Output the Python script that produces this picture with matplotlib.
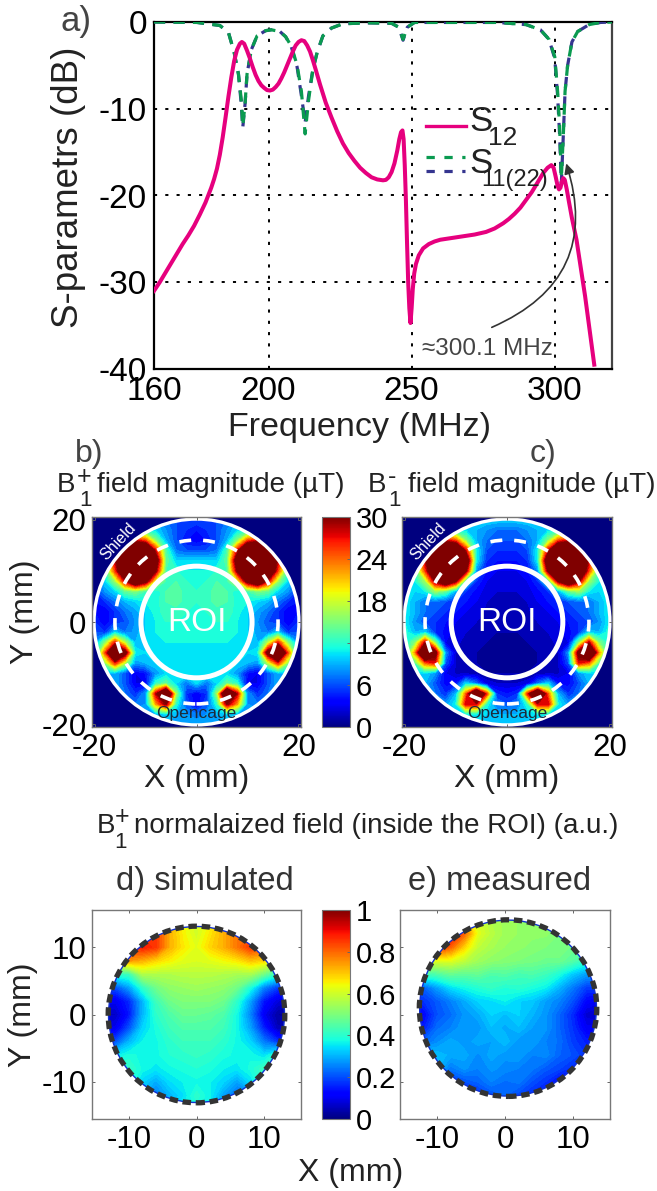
import matplotlib

matplotlib.use("Agg")
import matplotlib.pyplot as plt
import numpy as np
from matplotlib.cm import ScalarMappable
from matplotlib.colors import Normalize
from matplotlib.patches import Circle

plt.rcParams["font.family"] = ["Liberation Sans", "DejaVu Sans"]
plt.rcParams["axes.unicode_minus"] = False

W, H = 657, 1191

# panel a
s12_freq = [160, 162, 164, 166, 168, 170, 172, 174, 176, 178, 180, 181, 182, 183, 184, 185, 186, 187, 188, 189,
            190, 190.7, 191.5, 192.5, 193.5, 194.5, 195.5, 196.5, 197.5, 198.5, 199.5, 200.5, 201.5, 202.5,
            203.5, 204.5, 205.5, 206.5, 207.5, 208.5, 209.5, 210.5, 211.5, 212.5, 213.5, 214.5, 215.5, 216.5,
            218, 220, 222, 224, 226, 228, 230, 232, 234, 236, 238, 240, 241, 242, 243, 244, 245, 245.7, 246.3,
            246.8, 247.2, 247.6, 248, 248.4, 248.8, 249.2, 249.6, 250, 250.4, 250.9, 251.5, 252.5, 254, 256,
            258, 260, 264, 268, 272, 276, 279, 282, 284, 286, 288, 290, 292, 294, 296, 297.5, 298.8, 299.6,
            300.3, 301, 301.5, 302, 302.6, 303, 303.5, 304.2, 305, 306, 307.6, 310.6, 313.8]
s12_db = [-31, -30, -28.9, -27.8, -26.7, -25.6, -24.6, -23.5, -22.2, -20.8, -19.1, -18.1, -16.9, -15.3, -13.3, -11, -8.6,
          -6.4, -4.5, -3.2, -2.5, -2.3, -2.5, -3.3, -4.2, -5.2, -6.1, -6.8, -7.3, -7.6, -7.85, -7.9, -7.8, -7.5,
          -7.1, -6.5, -5.8, -5, -4.2, -3.4, -2.7, -2.3, -2.1, -2.2, -2.7, -3.4, -4.4, -5.5,
          -7.2, -9.3, -11, -12.6, -14, -15.1, -16, -16.8, -17.4, -17.9, -18.15, -18.25, -18.2, -17.9, -17.3, -16.3,
          -14.8, -13.5, -12.7, -12.5, -13.5, -16.5, -20.5, -25.5, -30, -33, -34.7, -33, -30.8, -29, -27.9, -26.9,
          -26.1, -25.6, -25.3, -25.1, -24.9, -24.7, -24.5, -24.2, -23.8, -23.2, -22.7, -22.1, -21.4, -20.5, -19.6,
          -18.5, -17.4, -16.8, -16.5, -16.8, -17.8, -18.9, -19.3, -19.1, -18.3, -18, -18.2, -19.3, -20.8, -22.6,
          -25.1, -31.6, -39.5]
s11_freq = [160, 175, 183, 186, 188, 189.5, 190.5, 191, 191.8, 192.5, 194, 196, 199, 201, 204, 206, 208,
            210, 211.5, 212.8, 214, 215.5, 217, 219, 222, 226, 235, 243, 245.5, 247, 248.5, 251, 280,
            290, 295, 298, 300, 301, 301.7, 302.3, 303, 303.6, 304.5, 306, 308, 312, 316, 320]
s11_db = [0, -0.05, -0.4, -1.2, -3.5, -6, -9, -12, -9.5, -6, -3.2, -1.6, -1, -0.9, -1.1, -1.7, -2.8,
          -5, -8, -12.9, -9, -5.5, -3.5, -1.6, -0.7, -0.2, -0.1, -0.15, -0.6, -2, -0.6, -0.05, -0.05,
          -0.3, -0.9, -2, -4, -8, -12, -18, -13, -8, -5, -2.3, -1.1, -0.3, -0.05, 0]
s22_db = [0, -0.05, -0.4, -1.2, -3.5, -6, -9.5, -12.2, -9.5, -6, -3.2, -1.6, -1, -0.9, -1.1, -1.7, -2.9,
          -5.2, -8.5, -11.6, -8.5, -5.5, -3.5, -1.6, -0.7, -0.2, -0.1, -0.15, -0.6, -2.1, -0.6, -0.05, -0.05,
          -0.3, -0.9, -2, -4.2, -8.5, -13, -18.6, -13, -8, -5, -2.3, -1.1, -0.3, -0.05, 0]

# panels b and c on a 2 mm grid, columns x = 0..20, rows y = 20..-20 (left half is the mirror)
field_y = [20, 18, 16, 14, 12, 10, 8, 6, 4, 2, 0, -2, -4, -6, -8, -10, -12, -14, -16, -18, -20]
b1_plus = [
    [6, 6, 6, 7, 8, 9, 9, 9, 9, 9, 9],
    [4, 5, 6, 8, 10, 11, 12, 11, 10, 9, 9],
    [3, 4, 6, 9, 15, 24, 27, 20, 13, 9, 8],
    [6, 6, 7, 13, 27, 42, 42, 40, 21, 11, 8],
    [10, 10, 10, 14, 34, 42, 42, 42, 28, 13, 7],
    [11, 11, 12, 13, 30, 42, 42, 40, 25, 12, 6],
    [12, 12, 13, 13, 18, 32, 38, 28, 16, 10, 6],
    [12, 12.5, 13.5, 13, 11, 13, 15, 14, 10, 8, 5],
    [12, 12.5, 13.5, 13, 11.5, 11, 10, 9, 7, 5, 4],
    [11.5, 12, 12.5, 12.5, 11.5, 10, 8.5, 7, 5, 3, 4],
    [11.5, 11.5, 12, 12, 11, 10, 8, 6, 5, 3, 5],
    [11.5, 11.5, 11.5, 11.5, 11, 10, 8.5, 7, 10, 5, 6],
    [11, 11, 11, 11, 10.5, 10, 9, 17, 26, 15, 8],
    [11, 11, 11, 11, 10.5, 10, 11, 32, 42, 24, 9],
    [11, 11, 11, 11, 10, 9, 8, 17, 26, 15, 9],
    [11, 11, 10.5, 10, 8, 4, 3, 6, 9, 9, 9],
    [10, 7, 10, 14, 12, 3, 3, 6, 9, 10, 10],
    [3, 5, 16, 42, 28, 8, 5, 7, 9, 10, 10],
    [3, 6, 12, 30, 22, 8, 7, 9, 10, 10, 10],
    [7, 8, 9, 10, 9, 9, 9, 9, 9, 9, 9],
    [9, 9, 9, 9, 9, 9, 9, 9, 9, 9, 9],
]
b1_minus = [
    [10, 10, 10, 10, 10, 10, 10, 10, 10, 10, 10],
    [7, 7, 8, 9, 10, 11, 12, 11, 10, 10, 10],
    [6, 6, 7, 9, 15, 24, 27, 20, 13, 10, 10],
    [5, 5, 6, 11, 27, 42, 42, 40, 21, 11, 11],
    [4, 4, 5, 11, 36, 42, 42, 42, 28, 13, 11],
    [3, 3, 4, 8, 30, 42, 42, 40, 25, 12, 11],
    [2.5, 2.5, 3, 5, 12, 30, 38, 30, 16, 11, 11],
    [2, 2, 2.5, 3.5, 5, 9, 14, 16, 11, 10, 11],
    [1.8, 1.8, 2, 3, 4, 5, 6, 7, 7, 9, 11],
    [1.5, 1.5, 1.8, 2.5, 3, 4, 5, 6, 7, 9, 11],
    [1.3, 1.3, 1.5, 2, 2.5, 3, 4, 5, 6, 8, 11],
    [1, 1, 1.2, 1.6, 2, 2.5, 3.5, 5, 10, 9, 12],
    [0.7, 0.8, 1, 1.3, 1.7, 2.2, 3, 15, 28, 15, 11],
    [0.5, 0.6, 0.8, 1, 1.4, 2, 8, 32, 42, 22, 11],
    [0.7, 0.7, 0.9, 1, 1.4, 2, 6, 27, 24, 13, 11],
    [1, 1, 1, 1.3, 1.5, 1.8, 3, 8, 10, 10, 11],
    [2, 2, 2.5, 7, 10, 4, 3.5, 6, 9, 11, 11],
    [4, 5, 26, 42, 24, 9, 5, 7, 10, 11, 11],
    [6, 7, 12, 28, 28, 11, 8, 10, 11, 11, 11],
    [9, 9, 10, 11, 11, 10, 10, 10, 10, 10, 10],
    [10, 10, 10, 10, 10, 10, 10, 10, 10, 10, 10],
]

# panels d and e, columns x = -14..14, rows y = 14..-14
norm_y = [14, 12, 10, 8, 6, 4, 2, 0, -2, -4, -6, -8, -10, -12, -14]
norm_x = [-14, -12, -10, -8, -6, -4, -2, 0, 2, 4, 6, 8, 10, 12, 14]
simulated = [
    [.7, .7, .8, .85, .85, .72, .64, .6, .64, .72, .78, .8, .7, .6, .6],
    [.7, .7, .8, .85, .85, .72, .65, .6, .66, .72, .78, .8, .7, .6, .6],
    [.8, .85, .85, .88, .85, .72, .66, .62, .68, .72, .78, .85, .82, .7, .7],
    [.7, .7, .75, .72, .68, .65, .62, .61, .62, .64, .66, .7, .68, .6, .6],
    [.4, .4, .42, .56, .56, .56, .57, .57, .57, .56, .55, .55, .48, .4, .4],
    [.2, .2, .28, .4, .48, .52, .53, .54, .53, .52, .48, .38, .25, .18, .18],
    [.1, .1, .16, .3, .42, .48, .5, .5, .5, .48, .4, .28, .14, .08, .06],
    [.06, .06, .14, .3, .4, .44, .47, .47, .46, .44, .37, .25, .1, .03, .02],
    [.08, .1, .2, .33, .38, .42, .44, .44, .44, .42, .37, .28, .15, .05, .05],
    [.2, .2, .3, .36, .37, .4, .42, .42, .42, .4, .37, .33, .24, .17, .15],
    [.35, .35, .38, .37, .37, .39, .4, .41, .4, .38, .37, .37, .34, .4, .4],
    [.42, .42, .41, .37, .35, .37, .38, .39, .38, .36, .35, .38, .42, .46, .46],
    [.42, .42, .4, .33, .29, .34, .36, .37, .36, .33, .28, .34, .42, .42, .42],
    [.4, .4, .35, .3, .24, .3, .34, .4, .36, .28, .22, .25, .3, .3, .3],
    [.3, .3, .3, .3, .3, .33, .36, .38, .36, .3, .3, .3, .3, .3, .3],
]
measured = [
    [.8, .8, .8, .8, .7, .6, .56, .54, .53, .53, .52, .5, .5, .5, .5],
    [.9, .9, .9, .92, .8, .62, .57, .54, .53, .52, .52, .5, .5, .5, .5],
    [.85, .85, .88, .8, .68, .58, .55, .53, .52, .51, .5, .5, .48, .48, .48],
    [.6, .6, .62, .62, .58, .54, .52, .51, .5, .49, .48, .48, .45, .4, .4],
    [.42, .42, .44, .47, .46, .47, .44, .45, .43, .44, .42, .38, .32, .28, .28],
    [.22, .22, .28, .34, .37, .39, .41, .39, .4, .38, .36, .3, .24, .18, .18],
    [.17, .17, .21, .25, .29, .33, .34, .36, .33, .32, .28, .25, .2, .12, .1],
    [.12, .12, .2, .23, .27, .29, .33, .31, .33, .3, .27, .22, .16, .07, .05],
    [.15, .15, .23, .25, .28, .27, .31, .29, .31, .28, .27, .22, .17, .1, .1],
    [.22, .22, .26, .29, .27, .29, .28, .31, .27, .28, .25, .23, .18, .15, .15],
    [.32, .32, .31, .29, .29, .26, .29, .27, .28, .25, .26, .22, .2, .17, .17],
    [.36, .36, .3, .24, .27, .25, .27, .26, .25, .24, .21, .19, .16, .14, .14],
    [.2, .2, .2, .18, .2, .22, .25, .23, .24, .2, .17, .12, .1, .1, .1],
    [.12, .12, .12, .12, .12, .16, .2, .22, .19, .16, .12, .1, .08, .08, .08],
    [.1, .1, .1, .1, .1, .12, .15, .18, .15, .12, .1, .1, .08, .08, .08],
]


def axes_px(x0, y0, x1, y1):
    return fig.add_axes([x0 / W, 1 - y1 / H, (x1 - x0) / W, (y1 - y0) / H])


def label(x, y, s, size=20, color="#222222", ha="left", va="baseline", **kw):
    fig.text(x / W, 1 - y / H, s, fontsize=size, color=color, ha=ha, va=va, **kw)


def map_axes(box, lim, xticks, yticks):
    ax = axes_px(*box)
    ax.set_xlim(*lim)
    ax.set_ylim(*lim)
    ax.set_xticks(xticks)
    ax.set_yticks(yticks)
    ax.tick_params(direction="in", length=2, width=0.7, color="#666666", top=True, right=True,
                   labelsize=22.5, pad=4, labelleft=box[0] < 200)
    for spine in ax.spines.values():
        spine.set_color("#777777")
        spine.set_linewidth(1.0)
    return ax


def field_panel(box, half_rows):
    ax = map_axes(box, (-20.5, 20.5), [-20, 0, 20], [-20, 0, 20])
    ax.set_facecolor("#00007f")
    half = np.array(half_rows, dtype=float)
    full = np.hstack([half[:, :0:-1], half])
    xs = np.arange(-20, 21, 2)
    cf = ax.contourf(xs, field_y, full, levels=np.linspace(0, 30, 31), cmap="jet", extend="max")
    cf.set_clip_path(Circle((0, 0), 20, transform=ax.transData))
    ax.add_patch(Circle((0, 0), 20.1, fill=False, ec="white", lw=2.4))
    ax.add_patch(Circle((0, 0), 10.9, fill=False, ec="white", lw=3.6))
    ax.add_patch(Circle((0, 0), 16, fill=False, ec="white", lw=2.6, linestyle=(0, (3.3, 3.3))))
    ax.text(0, 0, "ROI", color="white", fontsize=24, ha="center", va="center")
    ax.text(0, -17.9, "Opencage", color="#1c2a3a", fontsize=12.5, ha="center", va="center")
    ax.text(-15.4, 15.7, "Shield", color="white", fontsize=11.5, rotation=47, ha="center", va="center")
    return ax


def norm_panel(box, rows, center, radius):
    ax = map_axes(box, (-15.5, 15.5), [-10, 0, 10], [-10, 0, 10])
    cf = ax.contourf(norm_x, norm_y, np.array(rows), levels=np.linspace(0, 1, 65), cmap="jet", extend="both")
    cf.set_clip_path(Circle(center, radius, transform=ax.transData))
    ax.add_patch(Circle(center, radius, fill=False, ec="#1030d0", lw=1.0))
    ax.add_patch(Circle(center, radius + 0.05, fill=False, ec="#333333", lw=3.8,
                        linestyle=(0, (1.6, 0.9))))
    return ax


def colorbar(box, vmin, vmax, ticks, ticklabels):
    cax = axes_px(*box)
    cb = fig.colorbar(ScalarMappable(Normalize(vmin, vmax), "jet"), cax=cax)
    cb.set_ticks(ticks, labels=ticklabels)
    cax.tick_params(direction="in", length=2, width=0.7, color="#666666", labelsize=21, pad=4)
    cb.outline.set_edgecolor("#777777")
    cb.outline.set_linewidth(0.8)


fig = plt.figure(figsize=(W / 100, H / 100), dpi=100)

# a) S-parameters
ax = axes_px(154, 22, 612, 369)
ax.plot(s11_freq, s22_db, color="#35358f", lw=2.3, linestyle=(0, (3.5, 2.6)), zorder=3)
ax.plot(s11_freq, s11_db, color="#0a9a50", lw=2.3, linestyle=(0, (3.5, 2.6)), zorder=4)
ax.plot(s12_freq, s12_db, color="#e6007e", lw=2.9, zorder=5)
ax.set_xlim(160, 320)
ax.set_ylim(-40, 0)
ax.set_xticks([160, 200, 250, 300])
ax.set_yticks([0, -10, -20, -30, -40])
ax.grid(True, color="black", lw=1.4, linestyle=(0, (1.6, 4.2)))
ax.tick_params(length=0, labelsize=24, pad=5)
for side in ["top", "left", "bottom", "right"]:
    ax.spines[side].set_linewidth(1.6)
ax.spines["right"].set_color("#444444")
ax.set_xlabel("Frequency (MHz)", fontsize=24.5, color="#222222")
ax.xaxis.set_label_coords((359 - 154) / 458, -0.125)
ax.set_ylabel("S-parametrs (dB)", fontsize=26.5, color="#222222")
ax.yaxis.set_label_coords((86 - 154) / 458, 0.525)
ax.plot([0.594, 0.682], [0.7, 0.7], transform=ax.transAxes, color="#e6007e", lw=2.4)
ax.plot([0.594, 0.68], [0.611, 0.611], transform=ax.transAxes, color="#0a9a50", lw=2.3, linestyle=(0, (2.6, 3)))
ax.plot([0.594, 0.68], [0.571, 0.571], transform=ax.transAxes, color="#35358f", lw=2.3, linestyle=(0, (2.6, 3)))
ax.annotate("", xy=(304, -16.3), xytext=(278, -35.2),
            arrowprops=dict(arrowstyle="-|>,head_length=0.6,head_width=0.3", color="#333333", lw=1.2,
                            connectionstyle="arc3,rad=0.45", shrinkA=0, shrinkB=0), zorder=6)
ax.text(253.5, -37.7, "≈300.1 MHz", fontsize=17.5, color="#444444", ha="left", va="center", zorder=7)
label(469, 131, "S", 25)
label(488, 145, "12", 19)
label(469, 173, "S", 25)
label(481, 186, "11(22)", 17)
label(60, 31, "a)", 25, "#444444")

# b), c) field maps
ax_b = field_panel((92, 517, 301, 727), b1_plus)
ax_c = field_panel((402, 517, 612, 727), b1_minus)
colorbar((322, 517, 350, 727), 0, 30, [0, 6, 12, 18, 24, 30], ["0", "6", "12", "18", "24", "30"])
ax_b.set_xlabel("X (mm)", fontsize=23, color="#222222", labelpad=1)
ax_c.set_xlabel("X (mm)", fontsize=23, color="#222222", labelpad=1)
label(25, 612, "Y (mm)", 23, rotation=90, ha="center", va="center")
label(75, 462, "b)", 23, "#444444")
label(530, 462, "c)", 23, "#444444")
label(57, 492, "B", 20)
label(77, 484, "+", 18)
label(79, 506, "1", 16)
label(97, 492, "field magnitude (µT)", 20)
label(368, 492, "B", 20)
label(388, 484, "-", 18)
label(388, 506, "1", 16)
label(408, 492, "field magnitude (µT)", 20)

# d), e) normalized field
ax_d = norm_panel((92, 910, 301, 1119), simulated, (0, 0), 13.05)
ax_e = norm_panel((400, 910, 610, 1119), measured, (0.45, 0.95), 13.05)
colorbar((322, 910, 350, 1119), 0, 1, [0, 0.2, 0.4, 0.6, 0.8, 1], ["0", "0.2", "0.4", "0.6", "0.8", "1"])
label(97, 833, "B", 20)
label(115, 824, "+", 18)
label(114, 848, "1", 16)
label(134, 833, "normalaized field (inside the ROI) (a.u.)", 20)
label(116, 890, "d) simulated", 23.5, "#333333")
label(408, 890, "e) measured", 23.5, "#333333")
label(23, 1015, "Y (mm)", 23, rotation=90, ha="center", va="center")
label(351, 1173, "X (mm)", 23, ha="center", va="center")

fig.savefig("out.png", dpi=100)
